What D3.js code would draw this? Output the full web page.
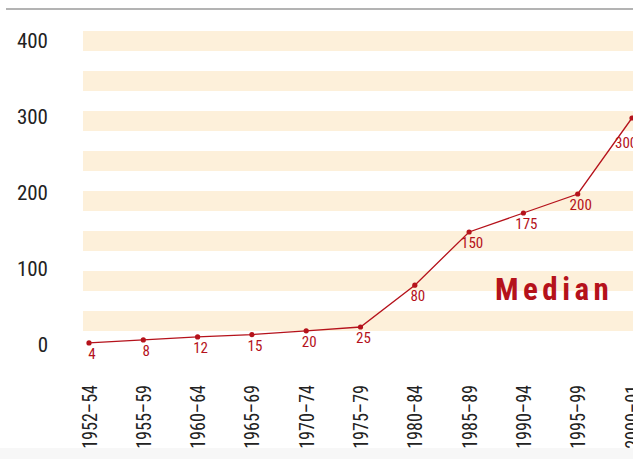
<!DOCTYPE html>
<html>
<head>
<meta charset="utf-8">
<script src="https://cdn.jsdelivr.net/npm/d3@7"></script>
<style>
  body { margin: 0; background: #fff; }
  text { font-family: "Liberation Sans Narrow", "Roboto Condensed", "Arial Narrow", sans-serif; font-stretch: condensed; }
</style>
</head>
<body>
<div id="chart"></div>
<script>
// Median line chart
var w = 633, h = 459;
var red = "#b5121b";

var periods = ["1952\u201354", "1955\u201359", "1960\u201364", "1965\u201369", "1970\u201374",
  "1975\u201379", "1980\u201384", "1985\u201389", "1990\u201394", "1995\u201399", "2000\u201301"];
var median = [4, 8, 12, 15, 20, 25, 80, 150, 175, 200, 300];
var yTicks = [0, 100, 200, 300, 400];

var svg = d3.select("#chart").append("svg")
  .attr("width", w).attr("height", h);

var x = d3.scalePoint().domain(periods).range([89, 632]);
var y = d3.scaleLinear().domain([0, 400]).range([346, 42]);

// top rule
svg.append("line").attr("x1", 6).attr("x2", w).attr("y1", 9).attr("y2", 9)
  .attr("stroke", "#9a9a9a").attr("stroke-width", 1.5);

// background stripes
svg.selectAll("rect.band").data(d3.range(8)).enter().append("rect")
  .attr("class", "band")
  .attr("x", 83).attr("width", w - 83)
  .attr("y", function(i) { return 31 + i * 40; })
  .attr("height", 20)
  .attr("fill", "#fdf0da");

// y labels
svg.selectAll("text.ytick").data(yTicks).enter().append("text")
  .attr("class", "ytick")
  .attr("x", 48).attr("y", function(d) { return y(d); })
  .attr("dy", "0.28em")
  .attr("text-anchor", "end")
  .attr("font-size", 21).attr("fill", "#222")
  .text(function(d) { return d; });

// x labels (narrowed a bit, the original face is very condensed)
svg.selectAll("text.xtick").data(periods).enter().append("text")
  .attr("class", "xtick")
  .attr("transform", function(d) { return "translate(" + x(d) + ",385) rotate(-90) scale(0.86,1)"; })
  .attr("dy", "0.36em")
  .attr("text-anchor", "end")
  .attr("font-size", 21).attr("fill", "#222")
  .text(function(d) { return d; });

// line
var line = d3.line()
  .x(function(d, i) { return x(periods[i]); })
  .y(function(d) { return y(d); });

svg.append("path").datum(median)
  .attr("d", line)
  .attr("fill", "none").attr("stroke", red).attr("stroke-width", 1.3);

svg.selectAll("circle.pt").data(median).enter().append("circle")
  .attr("class", "pt")
  .attr("cx", function(d, i) { return x(periods[i]); })
  .attr("cy", function(d) { return y(d); })
  .attr("r", 2.6).attr("fill", red);

// value labels
svg.selectAll("text.val").data(median).enter().append("text")
  .attr("class", "val")
  .attr("x", function(d, i) { return i == median.length - 1 ? x(periods[i]) - 17 : x(periods[i]) + 3; })
  .attr("y", function(d, i) { return i == median.length - 1 ? y(d) + 30 : y(d) + 16; })
  .attr("text-anchor", function(d, i) { return i == median.length - 1 ? "start" : "middle"; })
  .attr("font-size", 15).attr("fill", red)
  .text(function(d) { return d; });

// series name
svg.append("text")
  .attr("x", 495).attr("y", 300)
  .attr("font-size", 31).attr("font-weight", "bold")
  .attr("letter-spacing", 4.5)
  .attr("fill", red)
  .text("Median");

// light strip at bottom
svg.append("rect").attr("x", 0).attr("y", 448).attr("width", w).attr("height", h - 448)
  .attr("fill", "#f7f7f7");
</script>
</body>
</html>
